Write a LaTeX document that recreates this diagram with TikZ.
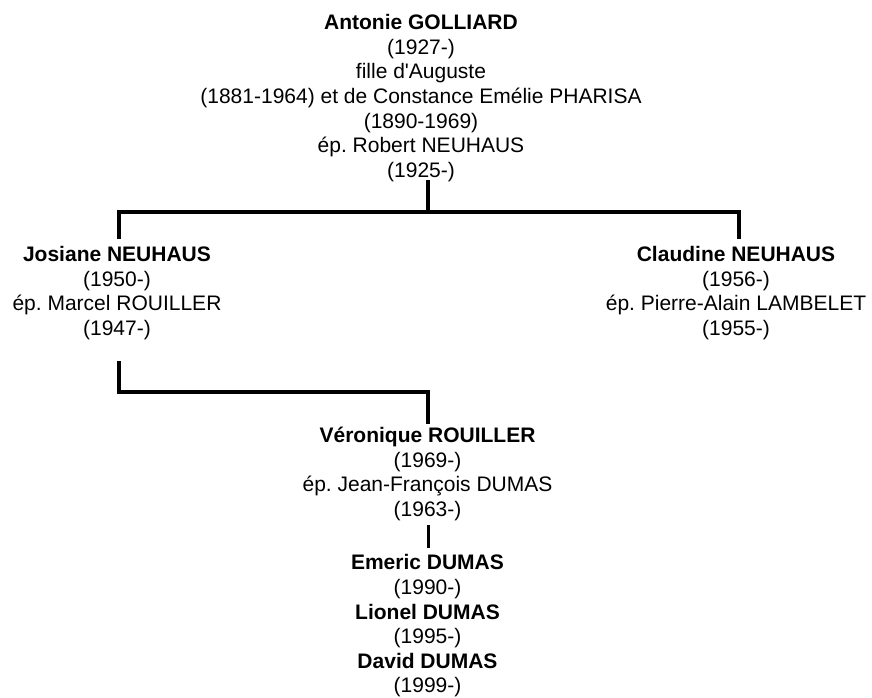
\documentclass[tikz,border=0pt]{standalone}
\usepackage{fontspec}
\setmainfont{Liberation Sans}[Ligatures=TeXOff]
\frenchspacing
\begin{document}
\begin{tikzpicture}[x=1pt,y=1pt,
  person/.style={align=center,inner sep=0pt,font=\fontsize{21}{24.6}\selectfont},
  link/.style={line width=4pt,line join=miter,line cap=rect},
  thinlink/.style={line width=3pt,line cap=butt}]
\useasboundingbox (0,0) rectangle (872,-697);
\node[person] (top) at (421,-98) {\textbf{Antonie GOLLIARD}\\(1927-)\\fille d'Auguste\\(1881-1964) et de Constance Emélie PHARISA\\(1890-1969)\\ép. Robert NEUHAUS\\(1925-)};
\node[person] (josiane) at (117,-293) {\textbf{Josiane NEUHAUS}\\(1950-)\\ép. Marcel ROUILLER\\(1947-)};
\node[person] (claudine) at (736,-293) {\textbf{Claudine NEUHAUS}\\(1956-)\\ép. Pierre-Alain LAMBELET\\(1955-)};
\node[person] (veronique) at (427.5,-474) {\textbf{Véronique ROUILLER}\\(1969-)\\ép. Jean-François DUMAS\\(1963-)};
\node[person] (children) at (427.5,-626) {\textbf{Emeric DUMAS}\\(1990-)\\\textbf{Lionel DUMAS}\\(1995-)\\\textbf{David DUMAS}\\(1999-)};
% junction points
\coordinate (topstem) at (428,-182);
\coordinate (topbar) at (428,-211.5);
\coordinate (jtop) at (118.5,-237);
\coordinate (ctop) at (738.5,-237);
\coordinate (jbot) at (118.5,-363);
\coordinate (lowbar) at (428,-392);
\coordinate (vtop) at (428,-422);
\coordinate (vbot) at (428,-525);
\coordinate (ctop2) at (428,-548);
\draw[link] (topstem) -- (topbar);
\draw[link] (jtop) |- (topbar) -| (ctop);
\draw[link] (jbot) |- (lowbar) -- (vtop);
\draw[thinlink] (vbot) -- (ctop2);
\end{tikzpicture}
\end{document}
